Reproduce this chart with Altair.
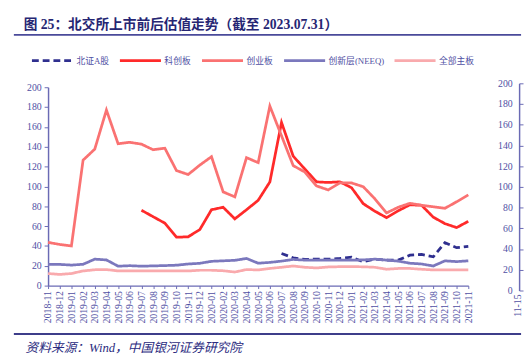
import altair as alt
import pandas as pd

months = ["2018-11", "2018-12", "2019-01", "2019-02", "2019-03", "2019-04", "2019-05",
          "2019-06", "2019-07", "2019-08", "2019-09", "2019-10", "2019-11", "2019-12",
          "2020-01", "2020-02", "2020-03", "2020-04", "2020-05", "2020-06", "2020-07",
          "2020-08", "2020-09", "2020-10", "2020-11", "2020-12", "2021-01", "2021-02",
          "2021-03", "2021-04", "2021-05", "2021-06", "2021-07", "2021-08", "2021-09",
          "2021-10", "2021-11"]

series_names = ["北证A股", "科创板", "创业板", "创新层(NEEQ)", "全部主板"]

bz = [None] * 20 + [32.4, 28.0, 26.4, 26.7, 26.7, 27.4, 28.7, 24.0, 26.7, 25.7, 25.7,
                    30.7, 31.4, 29.0, 43.3, 38.3, 39.6]
kcb = [None] * 8 + [76.0, 69.5, 63.0, 48.8, 49.2, 56.5, 76.5, 79.0, 67.3, 76.5, 86.0,
                    104.5, 164.5, 130.5, 117.5, 104.6, 104.0, 104.6, 98.7, 82.6, 75.0,
                    68.5, 75.5, 81.5, 81.0, 69.0, 62.5, 58.5, 64.8]
cyb = [43.6, 41.5, 40.0, 126.5, 137.6, 177.0, 143.0, 144.5, 142.6, 137.0, 138.6, 116.0,
       112.0, 121.5, 130.0, 94.5, 89.5, 129.0, 124.0, 181.0, 151.0, 121.0, 114.5, 100.5,
       96.5, 103.5, 103.5, 99.7, 87.5, 73.3, 79.0, 83.0, 81.0, 79.5, 78.0, 84.5, 91.5]
xsc = [21.5, 21.4, 20.7, 21.5, 26.7, 25.9, 19.6, 20.1, 19.6, 19.9, 20.2, 20.6, 21.8,
       22.5, 24.5, 25.0, 25.5, 27.4, 22.6, 23.4, 24.7, 26.4, 25.7, 25.7, 25.7, 25.7,
       25.7, 25.9, 26.7, 25.7, 24.7, 22.6, 21.8, 19.8, 25.0, 24.2, 25.0]
zb = [12.2, 11.3, 12.2, 14.8, 16.0, 16.2, 14.8, 14.8, 14.8, 14.8, 14.8, 14.8, 14.8,
      15.5, 15.5, 15.0, 13.7, 16.2, 15.8, 17.3, 18.5, 19.8, 18.5, 17.8, 18.8, 19.1,
      19.1, 19.0, 18.5, 16.5, 17.3, 17.3, 16.5, 15.8, 15.8, 15.8, 15.8]

y_ticks = list(range(0, 201, 20))
right_axis_vals = [0, 200]
right_tick_label = "11-15"
title_text = "图 25：北交所上市前后估值走势（截至 2023.07.31）"
source_text = "资料来源：Wind，中国银河证券研究院"

colors = ["#2f2f8f", "#ff2a2a", "#fa7272", "#7b78bd", "#f9aaad"]
dashes = [[7, 4], [1, 0], [1, 0], [1, 0], [1, 0]]

rows = []
for name, vals in zip(series_names, [bz, kcb, cyb, xsc, zb]):
    for m, v in zip(months, vals):
        if v is not None:
            rows.append({"month": m, "series": name, "value": v})
df = pd.DataFrame(rows)

FONT = "Liberation Serif, Noto Sans CJK SC"
AX = "#6a6ab4"
LAB = "#4f4fa3"

lines = alt.Chart(df).mark_line(strokeWidth=2.8).encode(
    x=alt.X("month:O", sort=months, scale=alt.Scale(type="point", padding=0),
            axis=alt.Axis(title=None, labelAngle=270, labelFontSize=10, labelFont=FONT,
                          labelColor=LAB, domainColor=AX, domainWidth=1.5, tickColor=AX,
                          tickSize=3, labelPadding=2, labelOverlap=False)),
    y=alt.Y("value:Q", scale=alt.Scale(domain=[0, 200]),
            axis=alt.Axis(title=None, values=y_ticks, grid=False, labelFontSize=10,
                          labelFont=FONT, labelColor=LAB, domainColor=AX, domainWidth=1.5,
                          tickColor=AX, tickSize=4, labelPadding=3)),
    color=alt.Color("series:N", scale=alt.Scale(domain=series_names, range=colors),
                    title=None),
    strokeDash=alt.StrokeDash("series:N", scale=alt.Scale(domain=series_names, range=dashes),
                              title=None),
    order=alt.Order("series:N"),
)

right_axis = alt.Chart(pd.DataFrame({"v": right_axis_vals})).mark_point(opacity=0).encode(
    y=alt.Y("v:Q", scale=alt.Scale(domain=[0, 200], range=[208, -4]),
            axis=alt.Axis(title=None, orient="right", offset=52, values=y_ticks, grid=False,
                          labelFontSize=10, labelFont=FONT, labelColor=LAB, labelAlign="right",
                          labelPadding=-11, domainColor=AX, domainWidth=1.5, tickColor=AX,
                          tickSize=4)),
)

base_txt = alt.Chart(pd.DataFrame({"a": [0]}))

title_mark = base_txt.mark_text(align="left", baseline="middle", fontSize=14,
                                fontWeight="bold", font=FONT, color="#262673").encode(
    x=alt.value(-25), y=alt.value(-64), text=alt.value(title_text))

source_mark = base_txt.mark_text(align="left", baseline="middle", fontSize=13,
                                 fontStyle="italic", font=FONT, color="#2b2b80").encode(
    x=alt.value(-23), y=alt.value(267), text=alt.value(source_text))

tick_lbl = base_txt.mark_text(align="right", baseline="middle", fontSize=10, angle=270,
                              font=FONT, color=LAB).encode(
    x=alt.value(481), y=alt.value(212), text=alt.value(right_tick_label))

top_rule = base_txt.mark_rule(color="#4a4a9a", strokeWidth=1.8).encode(
    x=alt.value(-35), x2=alt.value(484), y=alt.value(-53.5))
bottom_rule = base_txt.mark_rule(color="#3d3d8a", strokeWidth=1.8).encode(
    x=alt.value(-35), x2=alt.value(484), y=alt.value(252.5))

chart = alt.layer(
    lines, right_axis, title_mark, source_mark, tick_lbl, top_rule, bottom_rule
).resolve_scale(y="independent").properties(
    width=430, height=203,
    padding={"left": 5, "top": 6, "right": 0, "bottom": 0},
).configure_view(stroke=None).configure_legend(
    orient="none", legendX=-18, legendY=-50, direction="horizontal",
    symbolType="stroke", symbolSize=1764, symbolStrokeWidth=3, labelFont=FONT,
    labelFontSize=9, labelColor=LAB, labelOffset=2, columnPadding=4, padding=0,
)

chart.save("out.html", embed_options={"renderer": "svg", "actions": False})
